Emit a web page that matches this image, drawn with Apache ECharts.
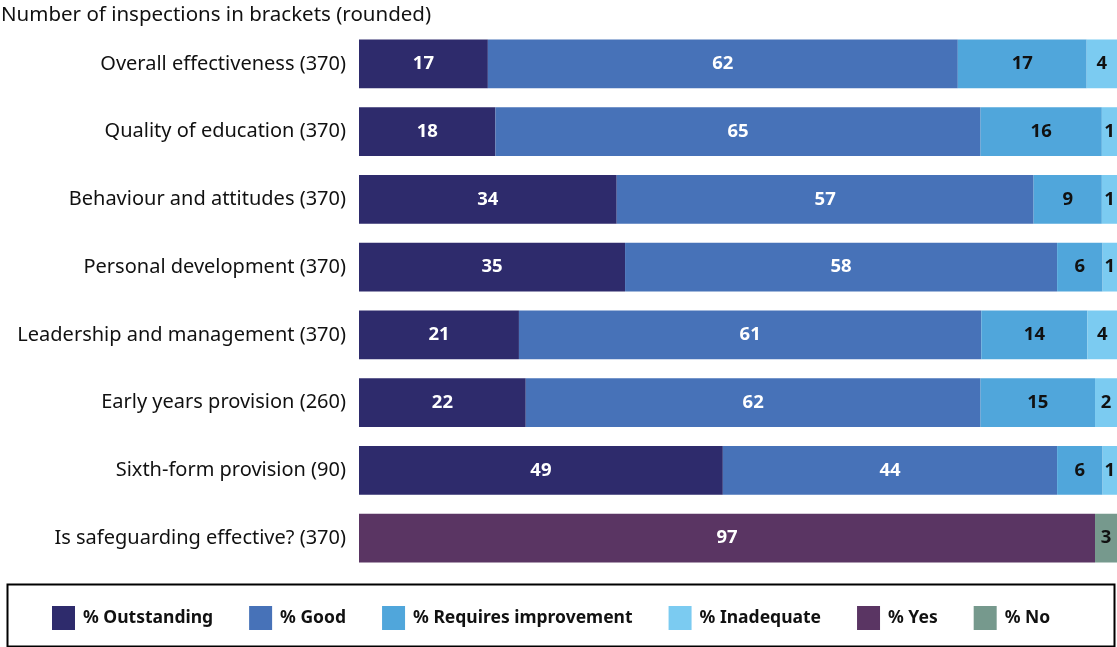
<!DOCTYPE html>
<html>
<head>
<meta charset="utf-8">
<script src="https://cdn.jsdelivr.net/npm/echarts@6/dist/echarts.min.js"></script>
<style>
html,body{margin:0;padding:0;background:#fff;}
#chart{width:1117px;height:647px;}
</style>
</head>
<body>
<div id="chart"></div>
<script>
// Categories (top to bottom)
const categories = [
  'Overall effectiveness (370)',
  'Quality of education (370)',
  'Behaviour and attitudes (370)',
  'Personal development (370)',
  'Leadership and management (370)',
  'Early years provision (260)',
  'Sixth-form provision (90)',
  'Is safeguarding effective? (370)'
];
// Bar lengths (%)
const outstanding = [17, 18, 34, 35.1, 21.1, 22, 48, null];
const good        = [62, 64, 55, 57, 61, 60, 44.1, null];
const requiresImp = [17, 16, 9, 6, 14, 15.1, 6, null];
const inadequate  = [4, 2, 2, 2, 4, 2.9, 2, null];
const yes         = [null, null, null, null, null, null, null, 97.1];
const no          = [null, null, null, null, null, null, null, 2.9];
// Printed labels
const outstandingLbl = ['17', '18', '34', '35', '21', '22', '49', ''];
const goodLbl        = ['62', '65', '57', '58', '61', '62', '44', ''];
const requiresImpLbl = ['17', '16', '9', '6', '14', '15', '6', ''];
const inadequateLbl  = ['4', '1', '1', '1', '4', '2', '1', ''];
const yesLbl         = ['', '', '', '', '', '', '', '97'];
const noLbl          = ['', '', '', '', '', '', '', '3'];

const seriesDefs = [
  {name: '% Outstanding', data: outstanding, labels: outstandingLbl, color: '#2E2B6C', text: '#ffffff'},
  {name: '% Good', data: good, labels: goodLbl, color: '#4772B8', text: '#ffffff'},
  {name: '% Requires improvement', data: requiresImp, labels: requiresImpLbl, color: '#50A6DB', text: '#111111'},
  {name: '% Inadequate', data: inadequate, labels: inadequateLbl, color: '#7BCBF1', text: '#111111'},
  {name: '% Yes', data: yes, labels: yesLbl, color: '#5A3563', text: '#ffffff'},
  {name: '% No', data: no, labels: noLbl, color: '#76998D', text: '#111111'}
];

const FONT = 'Noto Sans';
const chart = echarts.init(document.getElementById('chart'), null, {renderer: 'canvas'});
chart.setOption({
  animation: false,
  textStyle: {fontFamily: FONT},
  title: {
    text: 'Number of inspections in brackets (rounded)',
    left: -4, top: 0,
    textStyle: {fontFamily: FONT, fontSize: 20.5, fontWeight: 'normal', color: '#111'}
  },
  grid: {left: 359, right: 0, top: 30, height: 542, containLabel: false},
  xAxis: {
    type: 'value', min: 0, max: 100, show: false
  },
  yAxis: {
    type: 'category', data: categories, inverse: true,
    axisLine: {show: false}, axisTick: {show: false},
    axisLabel: {margin: 13, fontFamily: FONT, fontSize: 20, color: '#111'}
  },
  legend: {
    left: 47, top: 601,
    itemWidth: 23, itemHeight: 24, itemGap: 36,
    icon: 'rect',
    textStyle: {fontFamily: FONT, fontSize: 17.5, fontWeight: 'bold', color: '#111', padding: [0, 0, 0, 3]},
    data: seriesDefs.map(s => s.name)
  },
  graphic: [{
    type: 'rect', left: 5, top: 582,
    shape: {width: 1107, height: 62},
    style: {fill: 'none', stroke: '#000', lineWidth: 2},
    silent: true
  }],
  series: seriesDefs.map(s => ({
    name: s.name, type: 'bar', stack: 'total',
    barCategoryGap: '28%',
    itemStyle: {color: s.color},
    data: s.data,
    label: {
      show: true, position: 'inside',
      fontFamily: FONT, fontSize: 18.5, fontWeight: 'bold', color: s.text,
      formatter: p => s.labels[p.dataIndex]
    }
  }))
});
</script>
</body>
</html>
